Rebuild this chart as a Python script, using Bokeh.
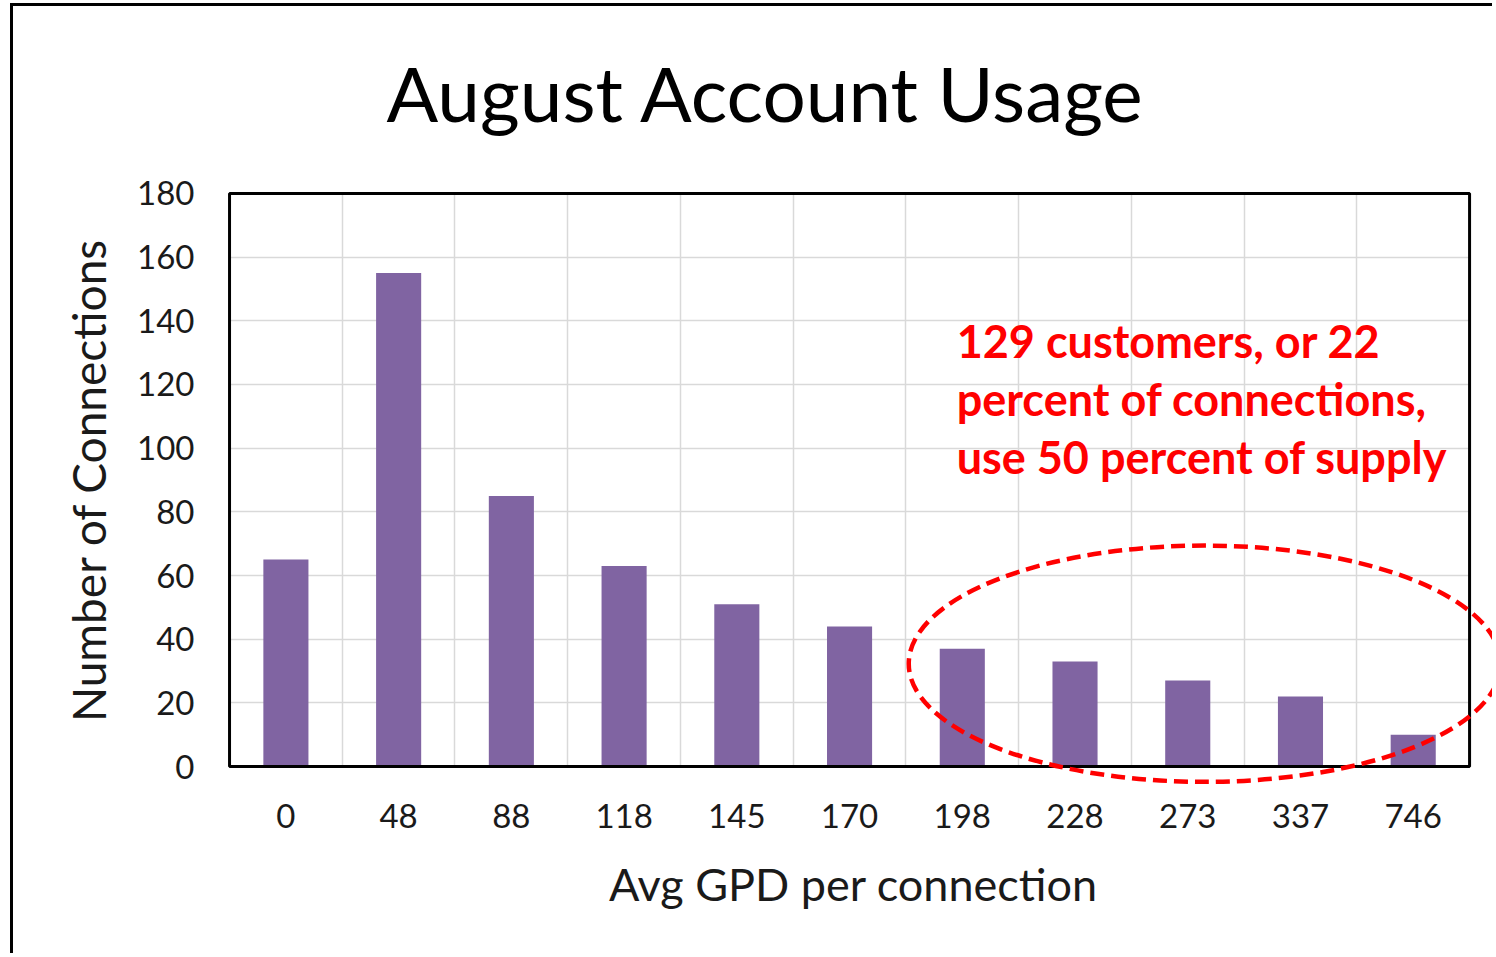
from bokeh.plotting import figure
from bokeh.models import Range1d, FixedTicker, BoxAnnotation, Label, ColumnDataSource
from bokeh.embed import file_html
from bokeh.resources import INLINE

# ---- data ----
categories = ["0", "48", "88", "118", "145", "170", "198", "228", "273", "337", "746"]
connections = [65, 155, 85, 63, 51, 44, 37, 33, 27, 22, 10]
y_ticks = [0, 20, 40, 60, 80, 100, 120, 140, 160, 180]

title_text = "August Account Usage"
x_title = "Avg GPD per connection"
y_title = "Number of Connections"
note_text = "129 customers, or 22\npercent of connections,\nuse 50 percent of supply"

# highlight ellipse (data units: category index, connections)
ell_x, ell_y = [8.65], [32.3]
ell_w, ell_h = [5.25], [74.2]

FONT = "Lato"
BAR = "#8064A2"
GRID = "#d9d9d9"

n = len(categories)
xs = [i + 0.5 for i in range(n)]
src = ColumnDataSource(dict(x=xs, top=connections, cat=categories))

p = figure(width=1482, height=950,
           x_range=Range1d(-0.16, 11.23), y_range=Range1d(-5.95, 185.95),
           output_backend="svg", toolbar_location=None,
           min_border_left=198, min_border_right=0,
           min_border_top=166, min_border_bottom=171)
p.outline_line_color = None
p.background_fill_color = "white"
p.border_fill_color = "white"
p.styles = {"border-left": "3px solid black", "border-top": "3px solid black",
            "margin-left": "10px", "margin-top": "3px"}

# grids
p.xgrid.ticker = FixedTicker(ticks=list(range(1, n)))
p.xgrid.grid_line_color = GRID
p.xgrid.grid_line_width = 1.5
p.xgrid.cross_bounds = (0, 180)
p.ygrid.ticker = FixedTicker(ticks=y_ticks[1:])
p.ygrid.grid_line_color = GRID
p.ygrid.grid_line_width = 1.5
p.ygrid.cross_bounds = (0, n)

# bars
p.vbar(x="x", top="top", bottom=0, width=0.4, source=src,
       fill_color=BAR, line_color=None)

# plot-area frame
p.add_layout(BoxAnnotation(left=0, right=n, bottom=0, top=180,
                           fill_color=None, fill_alpha=0,
                           line_color="black", line_alpha=1.0, line_width=3))

# dashed ellipse
er = p.ellipse(x=ell_x, y=ell_y, width=ell_w, height=ell_h,
               fill_color=None, line_color="#ff0000", line_width=4.5,
               line_dash="14 7")
er.level = "overlay"

# note
p.add_layout(Label(x=6.45, y=142.1, text=note_text, text_font=FONT,
                   text_font_size="45px", text_font_style="bold",
                   text_color="#ff0000", text_baseline="top",
                   text_align="left", text_line_height=1.07))

# axes
xa = p.xaxis[0]
xa.ticker = FixedTicker(ticks=xs)
xa.major_label_overrides = {x: c for x, c in zip(xs, categories)}
xa.bounds = (0, n)
ya = p.yaxis[0]
ya.ticker = FixedTicker(ticks=y_ticks)
ya.bounds = (0, 180)
for ax in (xa, ya):
    ax.axis_line_color = None
    ax.major_tick_line_color = None
    ax.minor_tick_line_color = None
    ax.major_tick_out = 0
    ax.major_label_text_font = FONT
    ax.major_label_text_font_size = "33px"
    ax.major_label_text_color = "#1a1a1a"
    ax.axis_label_text_font = FONT
    ax.axis_label_text_font_style = "normal"
    ax.axis_label_text_color = "#1a1a1a"
xa.axis_label_text_font_size = "45px"
ya.axis_label_text_font_size = "46px"
xa.axis_label = x_title
ya.axis_label = y_title
xa.major_label_standoff = 18
xa.axis_label_standoff = 26
ya.major_label_standoff = 17
ya.axis_label_standoff = 18

# title
p.title.text = title_text
p.title.text_font = FONT
p.title.text_font_size = "76.5px"
p.title.text_font_style = "normal"
p.title.text_color = "black"
p.title.align = "left"
p.title.offset = 175
p.title.standoff = 74

open("out.html", "w").write(file_html(p, INLINE))
